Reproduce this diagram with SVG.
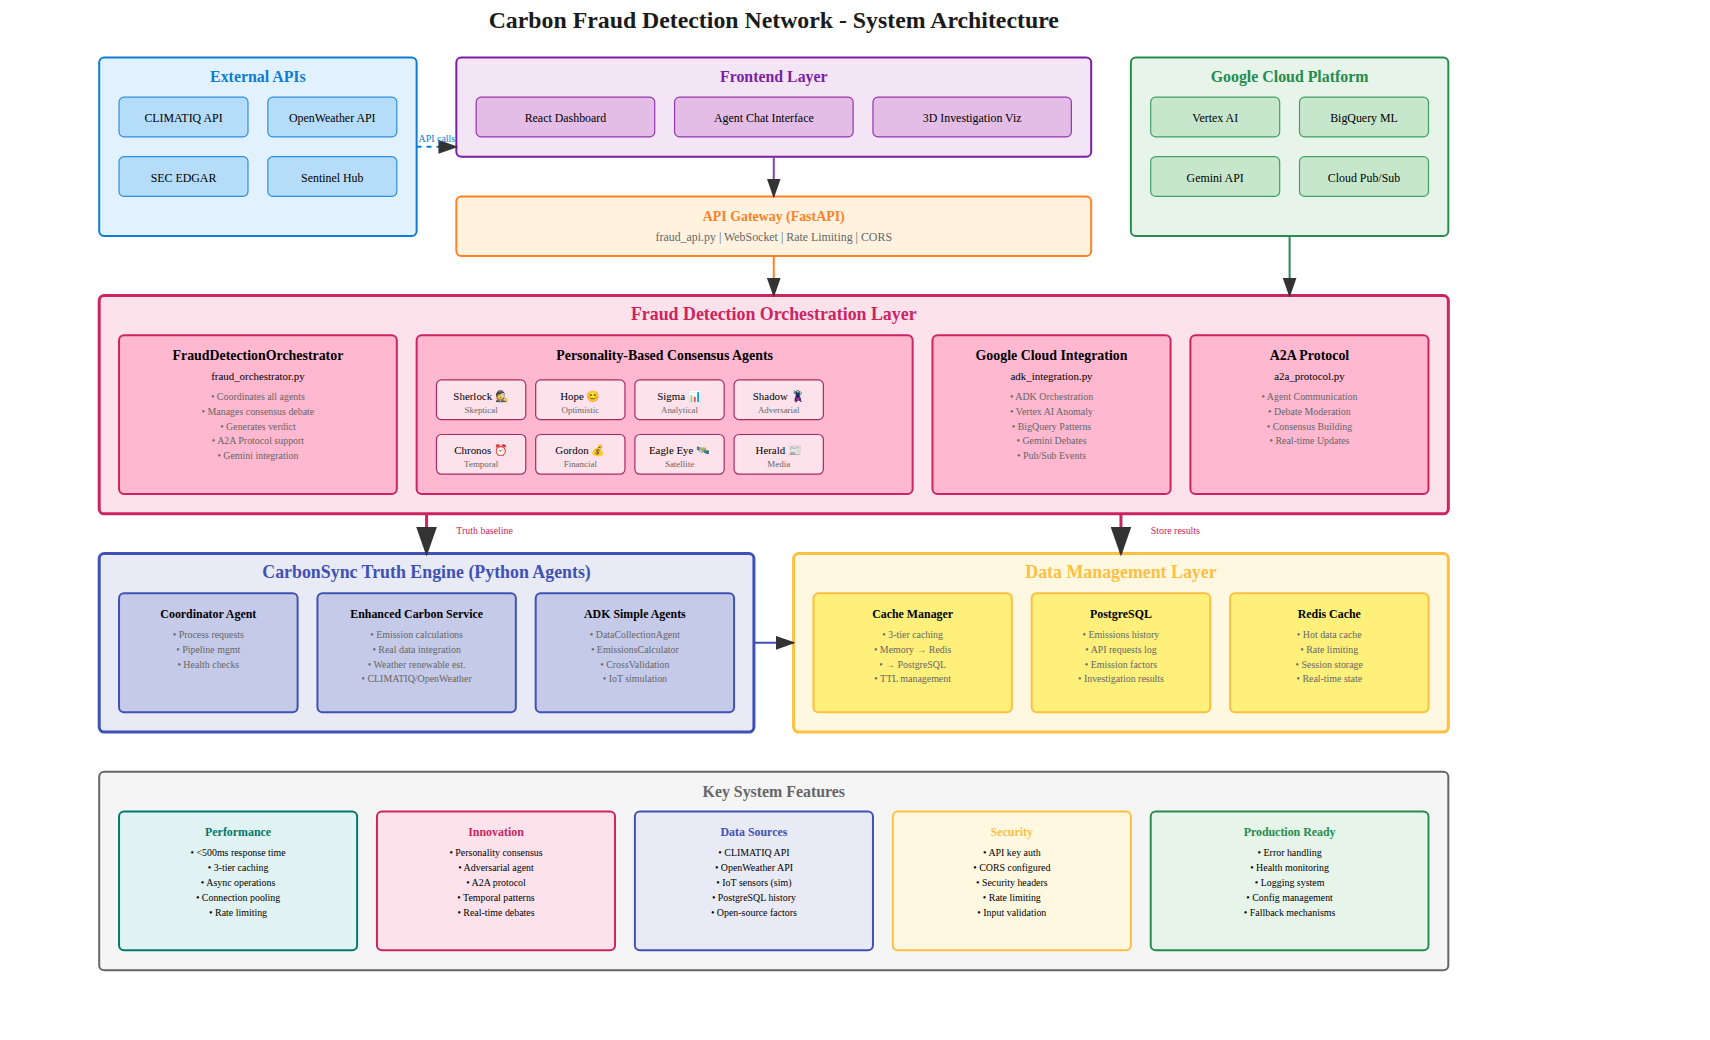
<svg xmlns="http://www.w3.org/2000/svg" width="1710" height="1040" viewBox="0 0 1710 1040">
<style>
text{font-family:"Liberation Serif","Times New Roman",serif;text-anchor:middle}
rect{rx:5px;ry:5px}
.t{font-size:24px;font-weight:bold;fill:#1a1a1a}
.h16{font-size:16px;font-weight:bold}
.h18{font-size:18px;font-weight:bold}
.h14{font-size:14px;font-weight:bold;fill:#000}
.h12{font-size:12px;font-weight:bold;fill:#000}
.n{font-size:12px;fill:#000}
.s11{font-size:11px;fill:#000}
.s10{font-size:10px;fill:#000}
.b{font-size:10px;fill:#666}
.g12{font-size:12px;fill:#666}
.an{font-size:11px;fill:#000}
.as{font-size:9px;fill:#666}
.lab{font-size:10px;text-anchor:start}
.o{stroke-width:2}
.o3{stroke-width:3}
.i{stroke-width:2}
.i1{stroke-width:1.2}
.i0{stroke-width:1.2}
.blue{fill:#e1f1fd;stroke:#0d7dd6}.blue2{fill:#b5dcf9;stroke:#2f8ede}
.pur{fill:#f3e5f5;stroke:#7b1fa2}.pur2{fill:#e3bde6;stroke:#9335ae}
.ora{fill:#fff3e0;stroke:#ff8126}
.grn{fill:#e6f4e9;stroke:#258c4c}.grn2{fill:#c6e7cc;stroke:#40a062}
.pnk{fill:#fde2ec;stroke:#cc2460}.pnk2{fill:#ffb8cf;stroke:#cc2460}
.agt{fill:#fde2ec;stroke:#a82a60}
.ind{fill:#e8eaf6;stroke:#3f51b5}.ind2{fill:#c5cae9;stroke:#3f51b5}
.yel{fill:#fff8e1;stroke:#ffbf40}.yel2{fill:#fff07c;stroke:#ffbf40}
.gry{fill:#f5f5f5;stroke:#666}
.tea{fill:#e0f2f1;stroke:#00796b}
.cblue{fill:#0d7dd6}.cpur{fill:#7b1fa2}.cgrn{fill:#258c4c}.cpnk{fill:#cc2460}.cind{fill:#3f51b5}.cyel{fill:#ffbf40}.cgry{fill:#666}
</style>
<defs>
<marker id="arrow" markerWidth="10" markerHeight="7" refX="9" refY="3.5" orient="auto"><polygon points="0 0,10 3.5,0 7" fill="#333"/></marker>
</defs>
<g transform="translate(0 -2) scale(.992)">
<text class="t" x="780" y="30" id="title">Carbon Fraud Detection Network - System Architecture</text>

<g id="external-apis">
<rect class="blue o" x="100" y="60" width="320" height="180"/>
<text class="h16 cblue" x="260" y="85">External APIs</text>
<rect class="blue2 i1" x="120" y="100" width="130" height="40"/><text class="n" x="185" y="125">CLIMATIQ API</text>
<rect class="blue2 i1" x="270" y="100" width="130" height="40"/><text class="n" x="335" y="125">OpenWeather API</text>
<rect class="blue2 i1" x="120" y="160" width="130" height="40"/><text class="n" x="185" y="185">SEC EDGAR</text>
<rect class="blue2 i1" x="270" y="160" width="130" height="40"/><text class="n" x="335" y="185">Sentinel Hub</text>
</g>

<g id="frontend-layer">
<rect class="pur o" x="460" y="60" width="640" height="100"/>
<text class="h16 cpur" x="780" y="85">Frontend Layer</text>
<rect class="pur2 i1" x="480" y="100" width="180" height="40"/><text class="n" x="570" y="125">React Dashboard</text>
<rect class="pur2 i1" x="680" y="100" width="180" height="40"/><text class="n" x="770" y="125">Agent Chat Interface</text>
<rect class="pur2 i1" x="880" y="100" width="200" height="40"/><text class="n" x="980" y="125">3D Investigation Viz</text>
</g>

<g id="api-gateway">
<rect class="ora o" x="460" y="200" width="640" height="60"/>
<text class="h14" style="fill:#ff8126" x="780" y="225">API Gateway (FastAPI)</text>
<text class="g12" x="780" y="245">fraud_api.py | WebSocket | Rate Limiting | CORS</text>
</g>

<g id="google-cloud">
<rect class="grn o" x="1140" y="60" width="320" height="180"/>
<text class="h16 cgrn" x="1300" y="85">Google Cloud Platform</text>
<rect class="grn2 i1" x="1160" y="100" width="130" height="40"/><text class="n" x="1225" y="125">Vertex AI</text>
<rect class="grn2 i1" x="1310" y="100" width="130" height="40"/><text class="n" x="1375" y="125">BigQuery ML</text>
<rect class="grn2 i1" x="1160" y="160" width="130" height="40"/><text class="n" x="1225" y="185">Gemini API</text>
<rect class="grn2 i1" x="1310" y="160" width="130" height="40"/><text class="n" x="1375" y="185">Cloud Pub/Sub</text>
</g>

<g id="orchestration-layer">
<rect class="pnk o3" x="100" y="300" width="1360" height="220"/>
<text class="h18 cpnk" x="780" y="325">Fraud Detection Orchestration Layer</text>
<g id="orchestrator">
<rect class="pnk2 i" x="120" y="340" width="280" height="160"/>
<text class="h14" x="260" y="365">FraudDetectionOrchestrator</text>
<text class="s11" x="260" y="385">fraud_orchestrator.py</text>
<text class="b" x="260" y="405">• Coordinates all agents</text>
<text class="b" x="260" y="420">• Manages consensus debate</text>
<text class="b" x="260" y="435">• Generates verdict</text>
<text class="b" x="260" y="450">• A2A Protocol support</text>
<text class="b" x="260" y="465">• Gemini integration</text>
</g>
<g id="consensus-agents">
<rect class="pnk2 i" x="420" y="340" width="500" height="160"/>
<text class="h14" x="670" y="365">Personality-Based Consensus Agents</text>
<g id="agent-sherlock"><rect class="agt i0" x="440" y="385" width="90" height="40"/><text class="an" x="485" y="405">Sherlock 🕵️</text><text class="as" x="485" y="418">Skeptical</text></g>
<g id="agent-hope"><rect class="agt i0" x="540" y="385" width="90" height="40"/><text class="an" x="585" y="405">Hope 😊</text><text class="as" x="585" y="418">Optimistic</text></g>
<g id="agent-sigma"><rect class="agt i0" x="640" y="385" width="90" height="40"/><text class="an" x="685" y="405">Sigma 📊</text><text class="as" x="685" y="418">Analytical</text></g>
<g id="agent-shadow"><rect class="agt i0" x="740" y="385" width="90" height="40"/><text class="an" x="785" y="405">Shadow 🦹</text><text class="as" x="785" y="418">Adversarial</text></g>
<g id="agent-chronos"><rect class="agt i0" x="440" y="440" width="90" height="40"/><text class="an" x="485" y="460">Chronos ⏰</text><text class="as" x="485" y="473">Temporal</text></g>
<g id="agent-gordon"><rect class="agt i0" x="540" y="440" width="90" height="40"/><text class="an" x="585" y="460">Gordon 💰</text><text class="as" x="585" y="473">Financial</text></g>
<g id="agent-eagle"><rect class="agt i0" x="640" y="440" width="90" height="40"/><text class="an" x="685" y="460">Eagle Eye 🛰️</text><text class="as" x="685" y="473">Satellite</text></g>
<g id="agent-herald"><rect class="agt i0" x="740" y="440" width="90" height="40"/><text class="an" x="785" y="460">Herald 📰</text><text class="as" x="785" y="473">Media</text></g>
</g>
<g id="google-integration">
<rect class="pnk2 i" x="940" y="340" width="240" height="160"/>
<text class="h14" x="1060" y="365">Google Cloud Integration</text>
<text class="s11" x="1060" y="385">adk_integration.py</text>
<text class="b" x="1060" y="405">• ADK Orchestration</text>
<text class="b" x="1060" y="420">• Vertex AI Anomaly</text>
<text class="b" x="1060" y="435">• BigQuery Patterns</text>
<text class="b" x="1060" y="450">• Gemini Debates</text>
<text class="b" x="1060" y="465">• Pub/Sub Events</text>
</g>
<g id="a2a-protocol">
<rect class="pnk2 i" x="1200" y="340" width="240" height="160"/>
<text class="h14" x="1320" y="365">A2A Protocol</text>
<text class="s11" x="1320" y="385">a2a_protocol.py</text>
<text class="b" x="1320" y="405">• Agent Communication</text>
<text class="b" x="1320" y="420">• Debate Moderation</text>
<text class="b" x="1320" y="435">• Consensus Building</text>
<text class="b" x="1320" y="450">• Real-time Updates</text>
</g>
</g>

<g id="truth-engine">
<rect class="ind o3" x="100" y="560" width="660" height="180"/>
<text class="h18 cind" x="430" y="585">CarbonSync Truth Engine (Python Agents)</text>
<g id="coordinator-agent">
<rect class="ind2 i" x="120" y="600" width="180" height="120"/>
<text class="h12" x="210" y="625">Coordinator Agent</text>
<text class="b" x="210" y="645">• Process requests</text>
<text class="b" x="210" y="660">• Pipeline mgmt</text>
<text class="b" x="210" y="675">• Health checks</text>
</g>
<g id="enhanced-carbon">
<rect class="ind2 i" x="320" y="600" width="200" height="120"/>
<text class="h12" x="420" y="625">Enhanced Carbon Service</text>
<text class="b" x="420" y="645">• Emission calculations</text>
<text class="b" x="420" y="660">• Real data integration</text>
<text class="b" x="420" y="675">• Weather renewable est.</text>
<text class="b" x="420" y="690">• CLIMATIQ/OpenWeather</text>
</g>
<g id="adk-agents">
<rect class="ind2 i" x="540" y="600" width="200" height="120"/>
<text class="h12" x="640" y="625">ADK Simple Agents</text>
<text class="b" x="640" y="645">• DataCollectionAgent</text>
<text class="b" x="640" y="660">• EmissionsCalculator</text>
<text class="b" x="640" y="675">• CrossValidation</text>
<text class="b" x="640" y="690">• IoT simulation</text>
</g>
</g>

<g id="data-layer">
<rect class="yel o3" x="800" y="560" width="660" height="180"/>
<text class="h18 cyel" x="1130" y="585">Data Management Layer</text>
<g id="cache-manager">
<rect class="yel2 i" x="820" y="600" width="200" height="120"/>
<text class="h12" x="920" y="625">Cache Manager</text>
<text class="b" x="920" y="645">• 3-tier caching</text>
<text class="b" x="920" y="660">• Memory → Redis</text>
<text class="b" x="920" y="675">• → PostgreSQL</text>
<text class="b" x="920" y="690">• TTL management</text>
</g>
<g id="postgresql">
<rect class="yel2 i" x="1040" y="600" width="180" height="120"/>
<text class="h12" x="1130" y="625">PostgreSQL</text>
<text class="b" x="1130" y="645">• Emissions history</text>
<text class="b" x="1130" y="660">• API requests log</text>
<text class="b" x="1130" y="675">• Emission factors</text>
<text class="b" x="1130" y="690">• Investigation results</text>
</g>
<g id="redis-cache">
<rect class="yel2 i" x="1240" y="600" width="200" height="120"/>
<text class="h12" x="1340" y="625">Redis Cache</text>
<text class="b" x="1340" y="645">• Hot data cache</text>
<text class="b" x="1340" y="660">• Rate limiting</text>
<text class="b" x="1340" y="675">• Session storage</text>
<text class="b" x="1340" y="690">• Real-time state</text>
</g>
</g>

<g id="key-features">
<rect class="gry o" x="100" y="780" width="1360" height="200"/>
<text class="h16 cgry" x="780" y="805">Key System Features</text>
<g id="feature-performance">
<rect class="tea i" x="120" y="820" width="240" height="140"/>
<text class="h12" style="fill:#00796b" x="240" y="845">Performance</text>
<text class="s10" x="240" y="865">• &lt;500ms response time</text>
<text class="s10" x="240" y="880">• 3-tier caching</text>
<text class="s10" x="240" y="895">• Async operations</text>
<text class="s10" x="240" y="910">• Connection pooling</text>
<text class="s10" x="240" y="925">• Rate limiting</text>
</g>
<g id="feature-innovation">
<rect class="pnk i" x="380" y="820" width="240" height="140"/>
<text class="h12" style="fill:#cc2460" x="500" y="845">Innovation</text>
<text class="s10" x="500" y="865">• Personality consensus</text>
<text class="s10" x="500" y="880">• Adversarial agent</text>
<text class="s10" x="500" y="895">• A2A protocol</text>
<text class="s10" x="500" y="910">• Temporal patterns</text>
<text class="s10" x="500" y="925">• Real-time debates</text>
</g>
<g id="feature-data-sources">
<rect class="ind i" x="640" y="820" width="240" height="140"/>
<text class="h12" style="fill:#3f51b5" x="760" y="845">Data Sources</text>
<text class="s10" x="760" y="865">• CLIMATIQ API</text>
<text class="s10" x="760" y="880">• OpenWeather API</text>
<text class="s10" x="760" y="895">• IoT sensors (sim)</text>
<text class="s10" x="760" y="910">• PostgreSQL history</text>
<text class="s10" x="760" y="925">• Open-source factors</text>
</g>
<g id="feature-security">
<rect class="yel i" x="900" y="820" width="240" height="140"/>
<text class="h12" style="fill:#ffbf40" x="1020" y="845">Security</text>
<text class="s10" x="1020" y="865">• API key auth</text>
<text class="s10" x="1020" y="880">• CORS configured</text>
<text class="s10" x="1020" y="895">• Security headers</text>
<text class="s10" x="1020" y="910">• Rate limiting</text>
<text class="s10" x="1020" y="925">• Input validation</text>
</g>
<g id="feature-production">
<rect class="grn i" x="1160" y="820" width="280" height="140"/>
<text class="h12" style="fill:#258c4c" x="1300" y="845">Production Ready</text>
<text class="s10" x="1300" y="865">• Error handling</text>
<text class="s10" x="1300" y="880">• Health monitoring</text>
<text class="s10" x="1300" y="895">• Logging system</text>
<text class="s10" x="1300" y="910">• Config management</text>
<text class="s10" x="1300" y="925">• Fallback mechanisms</text>
</g>
</g>

<g id="connectors" fill="none">
<line x1="420" y1="150" x2="460" y2="150" stroke="#0d7dd6" stroke-width="2" stroke-dasharray="5,5" marker-end="url(#arrow)"/>
<text class="lab cblue" x="422" y="145">API calls</text>
<line x1="780" y1="160" x2="780" y2="200" stroke="#8e3bad" stroke-width="2" marker-end="url(#arrow)"/>
<line x1="780" y1="260" x2="780" y2="300" stroke="#ff8126" stroke-width="2" marker-end="url(#arrow)"/>
<line x1="1300" y1="240" x2="1300" y2="300" stroke="#258c4c" stroke-width="2" marker-end="url(#arrow)"/>
<line x1="430" y1="520" x2="430" y2="560" stroke="#cc2460" stroke-width="3" marker-end="url(#arrow)"/>
<text class="lab cpnk" x="460" y="540">Truth baseline</text>
<line x1="1130" y1="520" x2="1130" y2="560" stroke="#cc2460" stroke-width="3" marker-end="url(#arrow)"/>
<text class="lab cpnk" x="1160" y="540">Store results</text>
<line x1="760" y1="650" x2="800" y2="650" stroke="#3f51b5" stroke-width="2" marker-end="url(#arrow)"/>
</g>
</g>
</svg>
